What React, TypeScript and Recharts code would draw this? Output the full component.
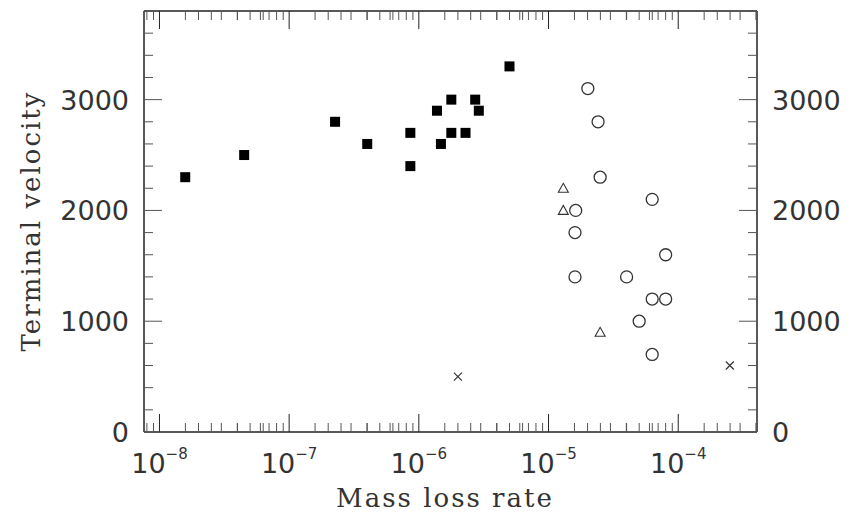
import { ScatterChart, Scatter, XAxis, YAxis } from "recharts";

// filled squares
const squareRate = [1.58e-8, 4.5e-8, 2.26e-7, 4.0e-7, 8.6e-7, 8.6e-7, 1.38e-6, 1.48e-6, 1.78e-6, 1.78e-6, 2.29e-6, 2.72e-6, 2.9e-6, 5.0e-6];
const squareVel = [2300, 2500, 2800, 2600, 2700, 2400, 2900, 2600, 3000, 2700, 2700, 3000, 2900, 3300];

// open circles
const circleRate = [2.01e-5, 2.41e-5, 2.5e-5, 6.3e-5, 1.62e-5, 1.6e-5, 8.0e-5, 1.6e-5, 4.0e-5, 6.3e-5, 8.0e-5, 5.0e-5, 6.3e-5];
const circleVel = [3100, 2800, 2300, 2100, 2000, 1800, 1600, 1400, 1400, 1200, 1200, 1000, 700];

// open triangles
const triRate = [1.3e-5, 1.3e-5, 2.5e-5];
const triVel = [2200, 2000, 900];

// crosses
const crossRate = [2.0e-6, 2.5e-4];
const crossVel = [500, 600];

const X_DOMAIN: [number, number] = [7.6e-9, 4.05e-4];
const Y_DOMAIN: [number, number] = [0, 3800];
const X_MAJOR = [1e-8, 1e-7, 1e-6, 1e-5, 1e-4];
const EXPONENTS = ["−8", "−7", "−6", "−5", "−4"];

const zip = (xs: number[], ys: number[]) => xs.map((x, i) => ({ x, y: ys[i] }));

// tick marks: major decades, the usual 2..9 minors, plus the extra 0.2-dex marks seen in the original
const xTicks: number[] = [];
for (let n = -9; n <= -4; n++) {
  const base = Math.pow(10, n);
  xTicks.push(base);
  for (let k = 2; k <= 9; k++) xTicks.push(k * base);
  for (const f of [0.2, 0.4, 0.6, 0.8]) xTicks.push(base * Math.pow(10, f));
}
const xTickList = xTicks.filter((v) => v >= X_DOMAIN[0] && v <= X_DOMAIN[1]).sort((a, b) => a - b);
const yTickList: number[] = [];
for (let v = 0; v <= 3800; v += 200) yTickList.push(v);

const INK = "#222";
const TICK = "#555";
const TEXT = "#333";
const MAJOR = 18;
const MINOR = 9;
const NUM_FONT = "'DejaVu Sans', sans-serif";
const LABEL_FONT = "'DejaVu Serif', serif";

const isMajorX = (v: number) => X_MAJOR.some((m) => Math.abs(v / m - 1) < 1e-6);

const BottomTick = (props: any) => {
  const { x, y, payload } = props;
  const v = payload.value;
  const major = isMajorX(v);
  const idx = X_MAJOR.findIndex((m) => Math.abs(v / m - 1) < 1e-6);
  return (
    <g>
      <line x1={x} x2={x} y1={y} y2={y - (major ? MAJOR : MINOR)} stroke={major ? INK : TICK} strokeWidth={1} />
      {major && (
        <text x={x} y={y + 41} textAnchor="middle" fontFamily={NUM_FONT} fontSize={27} fill={TEXT}>
          10
          <tspan fontSize={15} dy={-14}>{EXPONENTS[idx]}</tspan>
        </text>
      )}
    </g>
  );
};

const TopTick = (props: any) => {
  const { x, y, payload } = props;
  const major = isMajorX(payload.value);
  return <line x1={x} x2={x} y1={y} y2={y + (major ? MAJOR : MINOR)} stroke={major ? INK : TICK} strokeWidth={1} />;
};

const LeftTick = (props: any) => {
  const { x, y, payload } = props;
  const major = payload.value % 1000 === 0;
  return (
    <g>
      <line x1={x} x2={x + (major ? MAJOR : MINOR)} y1={y} y2={y} stroke={TICK} strokeWidth={1} />
      {major && (
        <text x={x - 15} y={y} dy={10} textAnchor="end" fontFamily={NUM_FONT} fontSize={27} fill={TEXT}>
          {payload.value}
        </text>
      )}
    </g>
  );
};

const RightTick = (props: any) => {
  const { x, y, payload } = props;
  const major = payload.value % 1000 === 0;
  return (
    <g>
      <line x1={x} x2={x - (major ? MAJOR : MINOR)} y1={y} y2={y} stroke={TICK} strokeWidth={1} />
      {major && (
        <text x={x + 15} y={y} dy={10} textAnchor="start" fontFamily={NUM_FONT} fontSize={27} fill={TEXT}>
          {payload.value}
        </text>
      )}
    </g>
  );
};

const SquareDot = ({ cx, cy }: any) => <rect x={cx - 5} y={cy - 5} width={10} height={10} fill="#000" />;
const CircleDot = ({ cx, cy }: any) => <circle cx={cx} cy={cy} r={6} fill="none" stroke="#333" strokeWidth={1.3} />;
const TriangleDot = ({ cx, cy }: any) => (
  <path d={`M${cx - 5},${cy + 4} L${cx + 5},${cy + 4} L${cx},${cy - 5} Z`} fill="none" stroke="#333" strokeWidth={1.1} />
);
const CrossDot = ({ cx, cy }: any) => (
  <path d={`M${cx - 4},${cy - 4} L${cx + 4},${cy + 4} M${cx - 4},${cy + 4} L${cx + 4},${cy - 4}`} stroke="#333" strokeWidth={1.2} />
);

export default function App() {
  return (
    <div style={{ position: "absolute", left: 0, top: 0, width: 856, height: 530, background: "#fff" }}>
      <ScatterChart width={856} height={530} margin={{ top: 0, right: 0, bottom: 0, left: 0 }}>
        <XAxis
          xAxisId="bottom"
          type="number"
          dataKey="x"
          scale="log"
          domain={X_DOMAIN}
          allowDataOverflow
          ticks={xTickList}
          interval={0}
          height={98}
          tickSize={0}
          tickMargin={0}
          tickLine={false}
          axisLine={{ stroke: INK, strokeWidth: 1.5 }}
          tick={<BottomTick />}
          label={{
            value: "Mass loss rate",
            content: () => (
              <text x={445} y={507} textAnchor="middle" fontFamily={LABEL_FONT} fontSize={26} letterSpacing={2} fill={TEXT}>
                Mass loss rate
              </text>
            ),
          }}
        />
        <XAxis
          xAxisId="top"
          orientation="top"
          type="number"
          dataKey="x"
          scale="log"
          domain={X_DOMAIN}
          allowDataOverflow
          ticks={xTickList}
          interval={0}
          height={11}
          tickSize={0}
          tickMargin={0}
          tickLine={false}
          axisLine={{ stroke: INK, strokeWidth: 1.5 }}
          tick={<TopTick />}
        />
        <YAxis
          yAxisId="left"
          type="number"
          dataKey="y"
          domain={Y_DOMAIN}
          allowDataOverflow
          ticks={yTickList}
          interval={0}
          width={144}
          tickSize={0}
          tickMargin={0}
          tickLine={false}
          axisLine={{ stroke: INK, strokeWidth: 1.5 }}
          tick={<LeftTick />}
          label={{
            value: "Terminal velocity",
            content: () => (
              <text
                x={40}
                y={221}
                transform="rotate(-90 40 221)"
                textAnchor="middle"
                fontFamily={LABEL_FONT}
                fontSize={26}
                letterSpacing={2}
                fill={TEXT}
              >
                Terminal velocity
              </text>
            ),
          }}
        />
        <YAxis
          yAxisId="right"
          orientation="right"
          type="number"
          dataKey="y"
          domain={Y_DOMAIN}
          allowDataOverflow
          ticks={yTickList}
          interval={0}
          width={99}
          tickSize={0}
          tickMargin={0}
          tickLine={false}
          axisLine={{ stroke: INK, strokeWidth: 1.5 }}
          tick={<RightTick />}
        />
        <Scatter xAxisId="bottom" yAxisId="left" data={zip(squareRate, squareVel)} shape={<SquareDot />} isAnimationActive={false} />
        <Scatter xAxisId="bottom" yAxisId="left" data={zip(circleRate, circleVel)} shape={<CircleDot />} isAnimationActive={false} />
        <Scatter xAxisId="bottom" yAxisId="left" data={zip(triRate, triVel)} shape={<TriangleDot />} isAnimationActive={false} />
        <Scatter xAxisId="bottom" yAxisId="left" data={zip(crossRate, crossVel)} shape={<CrossDot />} isAnimationActive={false} />
        <Scatter xAxisId="top" yAxisId="right" data={[]} isAnimationActive={false} />
      </ScatterChart>
    </div>
  );
}
